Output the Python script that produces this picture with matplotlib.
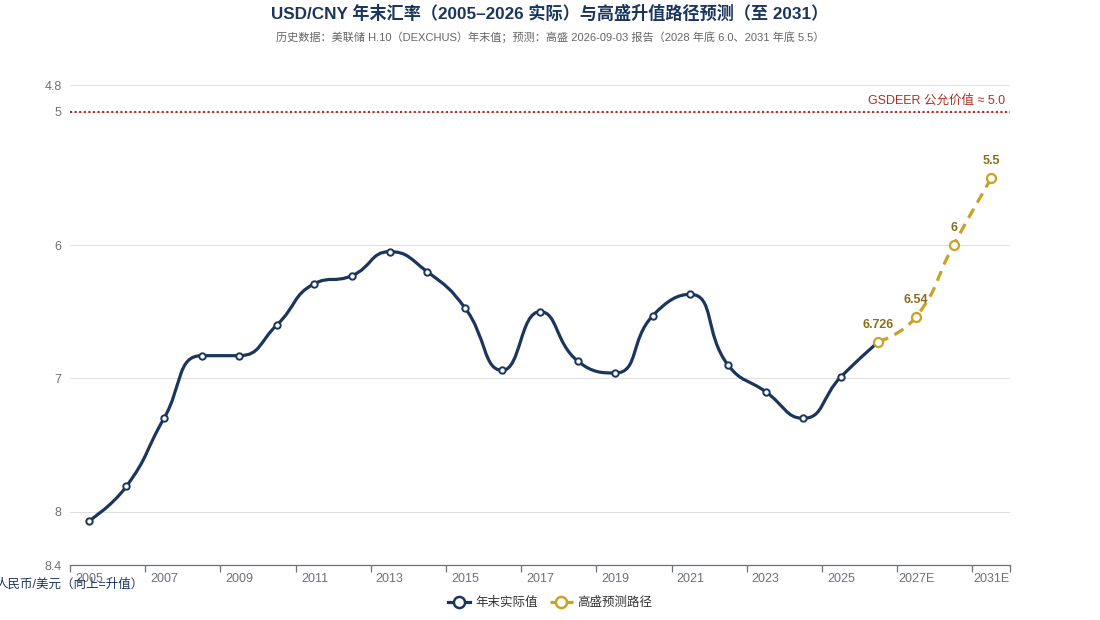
import numpy as np
import matplotlib
matplotlib.use("Agg")
import matplotlib.pyplot as plt
from matplotlib.path import Path
from matplotlib.patches import PathPatch
from matplotlib.lines import Line2D

plt.rcParams['font.family'] = ['Liberation Sans', 'Noto Sans CJK SC', 'DejaVu Sans']

# ---- data ----
years = [str(y) for y in range(2005, 2027)] + ['2027E', '2028E', '2031E']
actual = [8.07, 7.81, 7.30, 6.83, 6.83, 6.60, 6.29, 6.23, 6.05, 6.20, 6.47,
          6.94, 6.50, 6.87, 6.96, 6.53, 6.37, 6.90, 7.10, 7.30, 6.99, 6.726]
forecast_years = ['2026', '2027E', '2028E', '2031E']
forecast = [6.726, 6.54, 6.0, 5.5]
forecast_labels = ['6.726', '6.54', '6', '5.5']
gsdeer = 5.0

NAVY = '#1b365d'
GOLD = '#c9a227'
GOLD_TXT = '#8a6d1a'
RED = '#a93226'
GREY_TXT = '#6e7079'


def smooth_path(ax, xs, ys, smooth=0.5):
    """Bezier path through points, same idea as echarts smooth line (no overshoot)."""
    pts = ax.transData.transform(np.column_stack([xs, ys]))
    verts = [tuple(pts[0])]
    codes = [Path.MOVETO]
    cp0 = pts[0]
    n = len(pts)
    for i in range(1, n):
        x, y = pts[i]
        px, py = pts[i - 1]
        if i == n - 1:
            cp1 = np.array([x, y])
            ncp0 = np.array([x, y])
        else:
            nx, ny = pts[i + 1]
            vx, vy = nx - px, ny - py
            lp = np.hypot(x - px, y - py)
            ln = np.hypot(nx - x, ny - y)
            r = ln / (ln + lp)
            ncx = x + vx * smooth * r
            ncy = y + vy * smooth * r
            ncx = max(min(ncx, max(nx, x)), min(nx, x))
            ncy = max(min(ncy, max(ny, y)), min(ny, y))
            vx, vy = ncx - x, ncy - y
            c1x = x - vx * lp / ln
            c1y = y - vy * lp / ln
            c1x = max(min(c1x, max(px, x)), min(px, x))
            c1y = max(min(c1y, max(py, y)), min(py, y))
            vx, vy = x - c1x, y - c1y
            cp1 = np.array([c1x, c1y])
            ncp0 = np.array([x + vx * ln / lp, y + vy * ln / lp])
        verts += [tuple(cp0), tuple(cp1), (x, y)]
        codes += [Path.CURVE4] * 3
        cp0 = ncp0
    data_verts = ax.transData.inverted().transform(np.array(verts))
    return Path(data_verts, codes)


fig = plt.figure(figsize=(11, 6.2), dpi=100)
ax = fig.add_axes([70 / 1100, 1 - 565 / 620, 940 / 1100, 480 / 620])

xi = np.arange(len(years))
ax.set_xlim(-0.5, len(years) - 0.5)
ax.set_ylim(8.4, 4.8)

# grid & axes
for v in [4.8, 5, 6, 7, 8]:
    ax.axhline(v, color='#e0e0e0', lw=0.8, zorder=0)
ax.set_yticks([4.8, 5, 6, 7, 8, 8.4])
ax.set_yticklabels(['4.8', '5', '6', '7', '8', '8.4'])
ax.tick_params(axis='y', length=0, pad=6, labelsize=9, labelcolor=GREY_TXT)
ax.set_xticks(xi[::2])
ax.set_xticklabels(years[:22:2] + ['2027E', '2031E'])
ax.set_xticks(list(np.arange(-0.5, len(years) - 0.5, 2)) + [len(years) - 0.5], minor=True)
ax.tick_params(axis='x', which='major', length=0, pad=6, labelsize=9, labelcolor=GREY_TXT)
ax.tick_params(axis='x', which='minor', length=5, color=GREY_TXT, width=0.9)
for s in ['top', 'right', 'left']:
    ax.spines[s].set_visible(False)
ax.spines['bottom'].set_color(GREY_TXT)
ax.spines['bottom'].set_linewidth(0.9)

# GSDEER fair value line
ax.axhline(gsdeer, color=RED, lw=1.5, linestyle=(0, (1, 1.2)), zorder=2)
ax.text(len(years) - 0.62, gsdeer - 0.04, 'GSDEER 公允价值 ≈ 5.0', color=RED,
        fontsize=9, ha='right', va='bottom')

# actual series
xa = np.arange(len(actual))
ax.add_patch(PathPatch(smooth_path(ax, xa, actual), fill=False, edgecolor=NAVY,
                       lw=2.3, zorder=3, capstyle='round', joinstyle='round'))
ax.plot(xa, actual, 'o', ms=4.6, mfc='white', mec=NAVY, mew=1.4, zorder=4)

# forecast series
xf = np.array([years.index(y) for y in forecast_years])
ax.add_patch(PathPatch(smooth_path(ax, xf, forecast), fill=False, edgecolor=GOLD,
                       lw=2.3, linestyle=(0, (3.3, 2.2)), zorder=3))
ax.plot(xf, forecast, 'o', ms=6.5, mfc='white', mec=GOLD, mew=1.6, zorder=5)
for x, y, lab in zip(xf, forecast, forecast_labels):
    ax.annotate(lab, (x, y), xytext=(0, 8), textcoords='offset points',
                ha='center', va='bottom', fontsize=9, fontweight='bold', color=GOLD_TXT)

# y axis name (ends up at bottom because of inverse axis)
fig.text(70 / 1100, 1 - 585 / 620, '人民币/美元（向上=升值）', ha='center', va='center',
         fontsize=9, color=NAVY)

# title
fig.text(0.5, 1 - 13 / 620, 'USD/CNY 年末汇率（2005–2026 实际）与高盛升值路径预测（至 2031）',
         ha='center', va='center', fontsize=12.3, fontweight='bold', color=NAVY)
fig.text(0.5, 1 - 37 / 620,
         '历史数据：美联储 H.10（DEXCHUS）年末值；预测：高盛 2026-09-03 报告（2028 年底 6.0、2031 年底 5.5）',
         ha='center', va='center', fontsize=8, color='#666666')

# legend
handles = [
    Line2D([], [], color=NAVY, lw=2.3, marker='o', ms=8, mfc='white', mec=NAVY, mew=1.8),
    Line2D([], [], color=GOLD, lw=2.3, linestyle=(0, (3, 1.5)), marker='o', ms=8,
           mfc='white', mec=GOLD, mew=1.8),
]
fig.legend(handles, ['年末实际值', '高盛预测路径'], loc='center', ncol=2,
           bbox_to_anchor=(0.5, 1 - 603 / 620), frameon=False, fontsize=9,
           handlelength=1.8, handletextpad=0.4, columnspacing=1.0, labelcolor='#333333')

fig.savefig('out.png', dpi=100)
